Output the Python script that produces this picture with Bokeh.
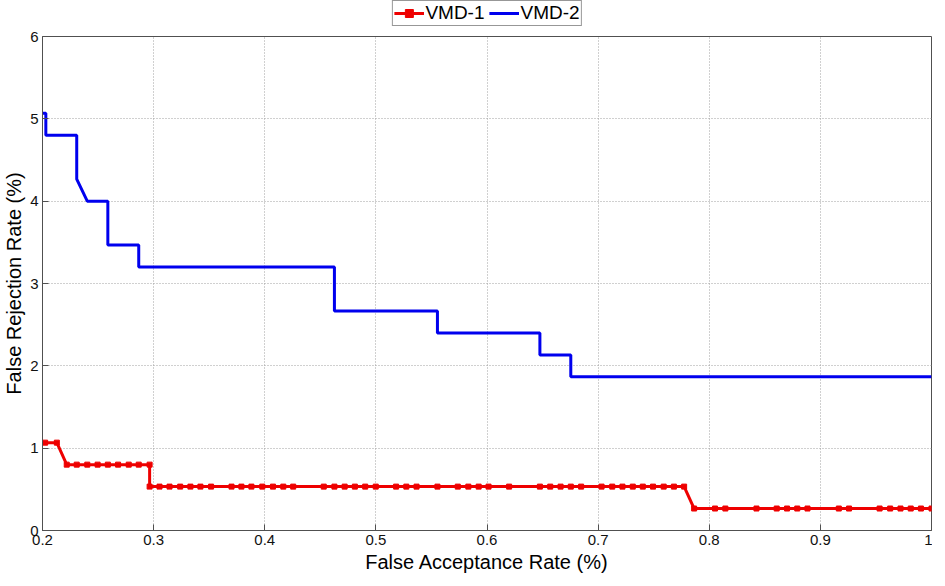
from bokeh.plotting import figure
from bokeh.layouts import column
from bokeh.models import Range1d, FixedTicker, Legend, LegendItem
from bokeh.embed import file_html
from bokeh.resources import INLINE

# ---- data ----
far_vmd1 = [0.2024, 0.2129,
            0.2218, 0.2308, 0.2403, 0.2496, 0.2588, 0.2680, 0.2776, 0.2866, 0.2964,
            0.2964, 0.3053, 0.3143, 0.3239, 0.3331, 0.3421, 0.3517, 0.3701, 0.3790, 0.3880,
            0.3978, 0.4074, 0.4167, 0.4256, 0.4531, 0.4627, 0.4719, 0.4811, 0.4904, 0.4999,
            0.5182, 0.5274, 0.5366, 0.5554, 0.5737, 0.5832, 0.5925, 0.6014, 0.6199, 0.6476,
            0.6569, 0.6662, 0.6754, 0.6847, 0.7031, 0.7127, 0.7219, 0.7312, 0.7402, 0.7494,
            0.7590, 0.7682, 0.7774,
            0.7864, 0.8052, 0.8145, 0.8425, 0.8607, 0.8700, 0.8792, 0.8884, 0.9166, 0.9258,
            0.9533, 0.9628, 0.9721, 0.9813, 0.9905, 1.0]
frr_vmd1 = [1.067, 1.067,
            0.800, 0.800, 0.800, 0.800, 0.800, 0.800, 0.800, 0.800, 0.800,
            0.533, 0.533, 0.533, 0.533, 0.533, 0.533, 0.533, 0.533, 0.533, 0.533,
            0.533, 0.533, 0.533, 0.533, 0.533, 0.533, 0.533, 0.533, 0.533, 0.533,
            0.533, 0.533, 0.533, 0.533, 0.533, 0.533, 0.533, 0.533, 0.533, 0.533,
            0.533, 0.533, 0.533, 0.533, 0.533, 0.533, 0.533, 0.533, 0.533, 0.533,
            0.533, 0.533, 0.533,
            0.267, 0.267, 0.267, 0.267, 0.267, 0.267, 0.267, 0.267, 0.267, 0.267,
            0.267, 0.267, 0.267, 0.267, 0.267, 0.267]

far_vmd2 = [0.2, 0.2030, 0.2030, 0.2308, 0.2308, 0.2403, 0.2588, 0.2588, 0.2866, 0.2866,
            0.4627, 0.4627, 0.5554, 0.5554, 0.6476, 0.6476, 0.6754, 0.6754, 1.0]
frr_vmd2 = [5.067, 5.067, 4.800, 4.800, 4.267, 4.000, 4.000, 3.467, 3.467, 3.200,
            3.200, 2.667, 2.667, 2.400, 2.400, 2.133, 2.133, 1.867, 1.867]

x_ticks = [0.2, 0.3, 0.4, 0.5, 0.6, 0.7, 0.8, 0.9, 1]
x_tick_labels = ["0.2", "0.3", "0.4", "0.5", "0.6", "0.7", "0.8", "0.9", "1"]
y_ticks = [0, 1, 2, 3, 4, 5, 6]

series_names = ["VMD-1", "VMD-2"]
series_colors = ["#ee0000", "#0000ee"]
x_title = "False Acceptance Rate (%)"
y_title = "False Rejection Rate (%)"

FONT = "Liberation Sans"
FIG_W = 932

# ---------------- main plot ----------------
p = figure(frame_width=889, frame_height=494, output_backend="svg", toolbar_location=None,
           x_range=Range1d(0.2, 1.0), y_range=Range1d(0, 6),
           min_border_left=42, min_border_right=1, min_border_bottom=40, min_border_top=10)
p.background_fill_color = "white"
p.border_fill_color = "white"
p.outline_line_color = "#505050"
p.outline_line_width = 1

for ax in (p.xaxis[0], p.yaxis[0]):
    ax.axis_line_color = "#505050"
    ax.major_tick_line_color = "#505050"
    ax.major_tick_in = 6
    ax.major_tick_out = 0
    ax.minor_tick_line_color = None
    ax.major_label_text_font = FONT
    ax.major_label_text_font_size = "15px"
    ax.major_label_text_color = "#111111"
    ax.axis_label_text_font = FONT
    ax.axis_label_text_font_size = "20px"
    ax.axis_label_text_font_style = "normal"
    ax.axis_label_text_color = "#000000"

p.xaxis.ticker = FixedTicker(ticks=x_ticks)
p.xaxis.major_label_overrides = {t: lab for t, lab in zip(x_ticks, x_tick_labels)}
p.yaxis.ticker = FixedTicker(ticks=y_ticks)
p.xaxis.axis_label = x_title
p.yaxis.axis_label = y_title
p.xaxis.major_label_standoff = 4
p.xaxis.axis_label_standoff = 3
p.yaxis.major_label_standoff = 4
p.yaxis.axis_label_standoff = 2

for g in (p.xgrid[0], p.ygrid[0]):
    g.grid_line_color = "#a0a0a0"
    g.grid_line_dash = "1 2"
    g.grid_line_width = 1
p.xgrid.ticker = FixedTicker(ticks=x_ticks)
p.ygrid.ticker = FixedTicker(ticks=y_ticks)

r_line = p.line(far_vmd1, frr_vmd1, line_color=series_colors[0], line_width=3)
r_pts = p.scatter(far_vmd1, frr_vmd1, marker="square", size=5,
                  fill_color=series_colors[0], line_color=series_colors[0])
b_line = p.line(far_vmd2, frr_vmd2, line_color=series_colors[1], line_width=3)

# ---------------- legend strip above the plot ----------------
top = figure(width=FIG_W, height=26, output_backend="svg", toolbar_location=None,
             x_axis_type=None, y_axis_type=None,
             x_range=Range1d(0, 1), y_range=Range1d(10, 11),
             min_border_left=0, min_border_right=0, min_border_top=0, min_border_bottom=0)
top.outline_line_color = None
top.xgrid.visible = False
top.ygrid.visible = False
top.background_fill_color = "white"
top.border_fill_color = "white"
# legend proxies: same series data, lying outside this strip's visible range
l1 = top.line(far_vmd1, frr_vmd1, line_color=series_colors[0], line_width=3)
s1 = top.scatter(far_vmd1, frr_vmd1, marker="square", size=5,
                 fill_color=series_colors[0], line_color=series_colors[0])
l2 = top.line(far_vmd2, frr_vmd2, line_color=series_colors[1], line_width=3)

legend = Legend(items=[LegendItem(label=series_names[0], renderers=[l1, s1]),
                       LegendItem(label=series_names[1], renderers=[l2])],
                orientation="horizontal", location="top_center")
legend.label_text_font = FONT
legend.label_text_font_size = "19px"
legend.label_text_color = "#000000"
legend.border_line_color = "#303030"
legend.border_line_width = 1
legend.background_fill_color = "white"
legend.padding = 1
legend.margin = 0
legend.spacing = 4
legend.glyph_width = 30
legend.glyph_height = 20
legend.label_height = 20
legend.label_standoff = 2
top.add_layout(legend, "center")

layout = column(top, p, spacing=0)
open("out.html", "w").write(file_html(layout, INLINE))
